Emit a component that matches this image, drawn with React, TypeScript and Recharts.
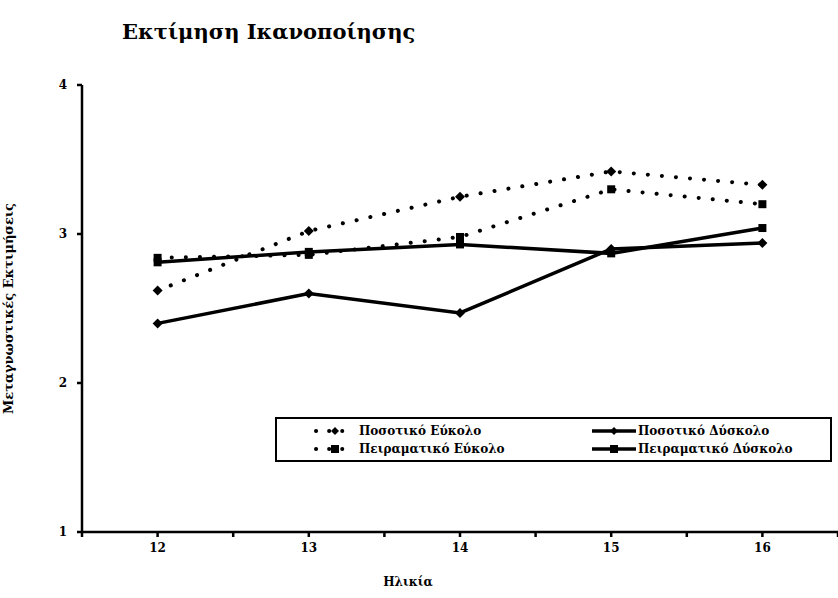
import React from 'react';
import { LineChart, Line, XAxis, YAxis, Label } from 'recharts';

const ages = [12, 13, 14, 15, 16];
const quantEasy = [2.62, 3.02, 3.25, 3.42, 3.33];
const expEasy = [2.84, 2.86, 2.98, 3.3, 3.2];
const quantHard = [2.4, 2.6, 2.47, 2.9, 2.94];
const expHard = [2.81, 2.88, 2.93, 2.87, 3.04];
const xTicks = [11.5, 12, 12.5, 13, 13.5, 14, 14.5, 15, 15.5, 16, 16.5];
const yTicks = [1, 2, 3, 4];

const data = ages.map((age, i) => ({
  age,
  quantEasy: quantEasy[i],
  expEasy: expEasy[i],
  quantHard: quantHard[i],
  expHard: expHard[i],
}));

const font = '"DejaVu Serif", serif';
const tickStyle = { fill: '#000', fontSize: 12, fontWeight: 700, fontFamily: font };

const Diamond = (props: any) => {
  const { cx, cy, index } = props;
  return (
    <path
      key={`d-${index}`}
      d={`M${cx},${cy - 5}L${cx + 5},${cy}L${cx},${cy + 5}L${cx - 5},${cy}Z`}
      fill="#000"
    />
  );
};

const Square = (props: any) => {
  const { cx, cy, index } = props;
  return <rect key={`s-${index}`} x={cx - 4} y={cy - 4} width={8} height={8} fill="#000" />;
};

const legendItems = [
  { label: 'Ποσοτικό Εύκολο', dashed: true, shape: 'diamond' },
  { label: 'Ποσοτικό Δύσκολο', dashed: false, shape: 'diamond' },
  { label: 'Πειραματικό Εύκολο', dashed: true, shape: 'square' },
  { label: 'Πειραματικό Δύσκολο', dashed: false, shape: 'square' },
];

function LegendMark({ dashed, shape }: { dashed: boolean; shape: string }) {
  return (
    <svg width={44} height={12} style={{ marginRight: 2 }}>
      <line
        x1={dashed ? 3 : 0}
        y1={6}
        x2={dashed ? 42 : 44}
        y2={6}
        stroke="#000"
        strokeWidth={dashed ? 4 : 3.5}
        strokeDasharray={dashed ? '0.1 13' : undefined}
        strokeLinecap={dashed ? 'round' : 'butt'}
      />
      {shape === 'diamond' ? (
        <path d="M22,2L26,6L22,10L18,6Z" fill="#000" />
      ) : (
        <rect x={18} y={2} width={8} height={8} fill="#000" />
      )}
    </svg>
  );
}

export default function App() {
  return (
    <div
      style={{
        position: 'absolute',
        left: 0,
        top: 0,
        width: 838,
        height: 598,
        background: '#fff',
        fontFamily: font,
      }}
    >
      <div
        style={{
          position: 'absolute',
          left: 122,
          top: 19,
          fontSize: 21,
          fontWeight: 700,
          color: '#000',
        }}
      >
        Εκτίμηση Ικανοποίησης
      </div>
      <LineChart width={838} height={598} data={data} margin={{ top: 85, right: 0, bottom: 0, left: 0 }}>
        <XAxis
          dataKey="age"
          type="number"
          domain={[11.5, 16.5]}
          ticks={xTicks}
          interval={0}
          height={66}
          stroke="#000"
          strokeWidth={2.5}
          tickSize={5}
          tickMargin={6}
          tickFormatter={(v: number) => (Number.isInteger(v) ? String(v) : '')}
          tick={tickStyle}
        >
          <Label
            value="Ηλικία"
            position="insideBottom"
            offset={12}
            dx={-52}
            style={{ fill: '#000', fontSize: 12, fontWeight: 700, fontFamily: font }}
          />
        </XAxis>
        <YAxis
          domain={[1, 4]}
          ticks={yTicks}
          width={82}
          stroke="#000"
          strokeWidth={2.5}
          tickSize={5}
          tickMargin={10}
          tick={tickStyle}
        >
          <Label
            value="Μεταγνωστικές Εκτιμήσεις"
            angle={-90}
            position="insideLeft"
            offset={8}
            style={{ fill: '#000', fontSize: 13, fontWeight: 700, fontFamily: font, textAnchor: 'middle' }}
          />
        </YAxis>
        <Line
          dataKey="quantEasy"
          stroke="#000"
          strokeWidth={4}
          strokeDasharray="0.1 14"
          strokeLinecap="round"
          dot={Diamond}
          isAnimationActive={false}
        />
        <Line
          dataKey="expEasy"
          stroke="#000"
          strokeWidth={4}
          strokeDasharray="0.1 14"
          strokeLinecap="round"
          dot={Square}
          isAnimationActive={false}
        />
        <Line
          dataKey="quantHard"
          stroke="#000"
          strokeWidth={3.5}
          dot={Diamond}
          isAnimationActive={false}
        />
        <Line
          dataKey="expHard"
          stroke="#000"
          strokeWidth={3.5}
          dot={Square}
          isAnimationActive={false}
        />
      </LineChart>
      <div
        style={{
          position: 'absolute',
          left: 275,
          top: 417,
          width: 553,
          height: 41,
          border: '2px solid #000',
          display: 'grid',
          gridTemplateColumns: '275px 278px',
          alignContent: 'center',
          rowGap: 2,
          fontSize: 12,
          fontWeight: 700,
          background: '#fff',
        }}
      >
        {legendItems.map((it) => (
          <div
            key={it.label}
            style={{
              display: 'flex',
              alignItems: 'center',
              paddingLeft: it.dashed ? 36 : 40,
              height: 16,
              whiteSpace: 'nowrap',
            }}
          >
            <LegendMark dashed={it.dashed} shape={it.shape} />
            {it.label}
          </div>
        ))}
      </div>
    </div>
  );
}
